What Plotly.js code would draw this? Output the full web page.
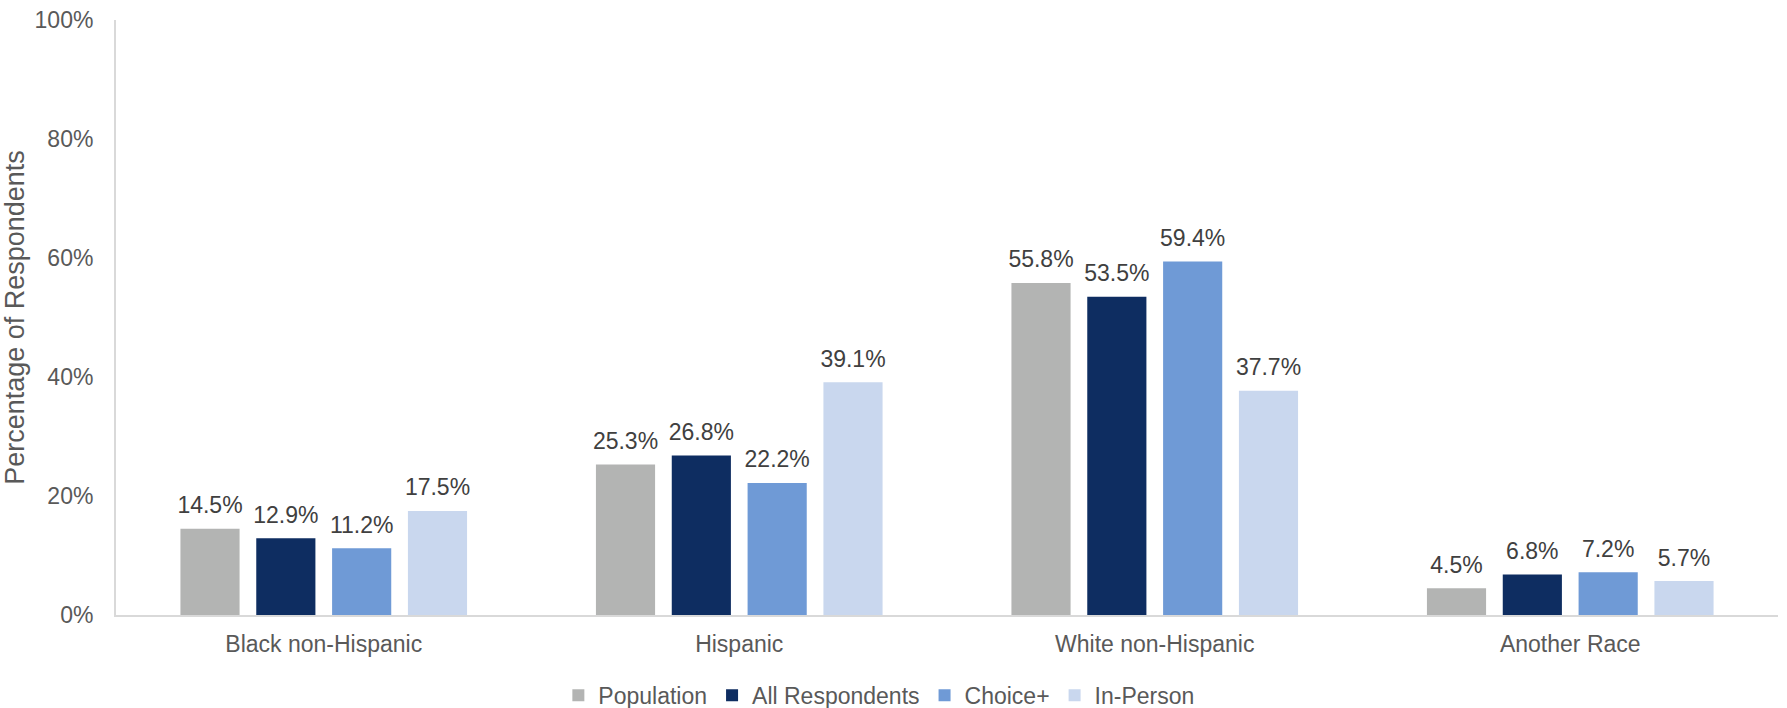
<!DOCTYPE html>
<html>
<head>
<meta charset="utf-8">
<script src="https://cdn.plot.ly/plotly-3.0.1.min.js"></script>
<style>html,body{margin:0;padding:0;background:#fff;}#chart{width:1787px;height:708px;}</style>
</head>
<body>
<div id="chart"></div>
<script>
const categories = ["Black non-Hispanic", "Hispanic", "White non-Hispanic", "Another Race"];
const population = [14.5, 25.3, 55.8, 4.5];
const allRespondents = [12.9, 26.8, 53.5, 6.8];
const choicePlus = [11.2, 22.2, 59.4, 7.2];
const inPerson = [17.5, 39.1, 37.7, 5.7];
const seriesNames = ["Population", "All Respondents", "Choice+", "In-Person"];
const seriesColors = ["#B3B4B3", "#0E2D61", "#6F9AD6", "#C9D7EE"];
const yTickVals = [0, 20, 40, 60, 80, 100];
const yTickText = ["0%", "20%", "40%", "60%", "80%", "100%"];

const font = "Liberation Sans, Arial, sans-serif";
const seriesValues = [population, allRespondents, choicePlus, inPerson];
const barTraces = seriesValues.map((vals, i) => ({
  type: "bar",
  name: seriesNames[i],
  x: categories,
  y: vals,
  offsetgroup: "g" + i,
  alignmentgroup: "a",
  marker: {color: seriesColors[i]},
  hoverinfo: "none"
}));
const labelTraces = seriesValues.map((vals, i) => ({
  type: "scatter",
  mode: "markers+text",
  x: categories,
  y: vals,
  offsetgroup: "g" + i,
  alignmentgroup: "a",
  marker: {size: 14, opacity: 0, color: seriesColors[i]},
  text: vals.map(v => v.toFixed(1) + "%"),
  textposition: "top center",
  textfont: {family: font, size: 23, color: "#404040"},
  cliponaxis: false,
  showlegend: false,
  hoverinfo: "none"
}));

const layout = {
  width: 1787, height: 708,
  margin: {l: 116, r: 9, t: 20, b: 93, autoexpand: false},
  paper_bgcolor: "#fff", plot_bgcolor: "#fff",
  barmode: "group",
  bargap: 0.27,
  bargroupgap: 0.22,
  scattermode: "group",
  scattergap: 0.27,
  font: {family: font, size: 23, color: "#595959"},
  xaxis: {
    showgrid: false, showline: true, linecolor: "#D9D9D9", linewidth: 2,
    ticks: "outside", ticklen: 7, tickcolor: "rgba(0,0,0,0)",
    tickfont: {family: font, size: 23, color: "#595959"},
    automargin: false,
    fixedrange: true
  },
  yaxis: {
    range: [0, 100], tickvals: yTickVals, ticktext: yTickText,
    showgrid: false, zeroline: false, showline: true, linecolor: "#D9D9D9", linewidth: 2,
    ticks: "outside", ticklen: 16, tickcolor: "rgba(0,0,0,0)",
    tickfont: {family: font, size: 23, color: "#595959"},
    title: {text: "Percentage of Respondents", font: {family: font, size: 27, color: "#595959"}, standoff: 4},
    automargin: false,
    fixedrange: true
  },
  legend: {
    orientation: "h", x: 0.459, xanchor: "center",
    yref: "container", y: 0.018, yanchor: "middle",
    font: {family: font, size: 23, color: "#595959"},
    itemwidth: 30, traceorder: "normal"
  },
  showlegend: true
};

Plotly.newPlot("chart", barTraces.concat(labelTraces), layout, {displayModeBar: false, staticPlot: true});
</script>
</body>
</html>
